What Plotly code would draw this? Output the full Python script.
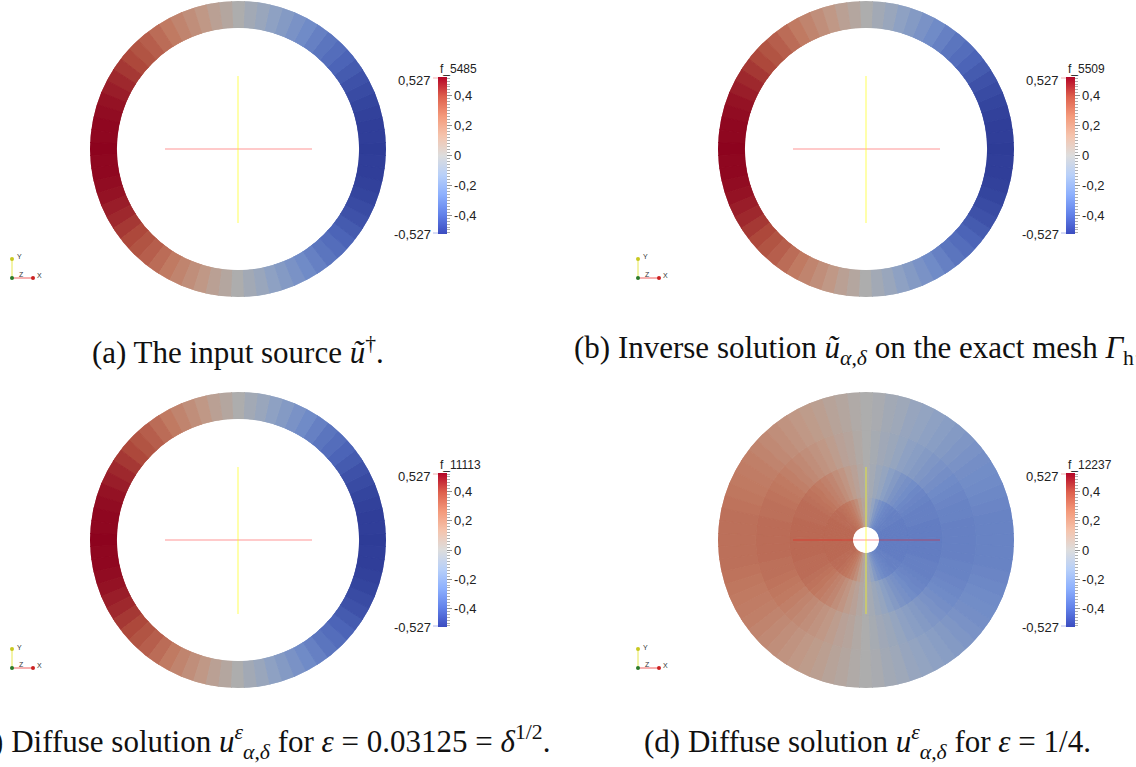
import plotly.graph_objects as go

W, H = 1136, 767

# ---------------- data ----------------
# sample angles (deg, 0 = +x axis, counter-clockwise), upper-right quadrant
angles_q = [0, 5, 10, 15, 20, 25, 30, 35, 40, 45, 50, 55, 60, 65, 70, 75, 80, 85, 90]

# ring panels (a), (b), (c): field value along the ring, 0..90 deg
vals_a = [-0.53, -0.52, -0.52, -0.51, -0.50, -0.48, -0.46, -0.43, -0.40, -0.37,
          -0.34, -0.30, -0.26, -0.22, -0.18, -0.14, -0.09, -0.05, 0.00]
vals_b = [-0.53, -0.52, -0.52, -0.51, -0.50, -0.48, -0.46, -0.43, -0.40, -0.37,
          -0.34, -0.30, -0.26, -0.22, -0.18, -0.14, -0.09, -0.05, 0.00]
vals_c = [-0.53, -0.52, -0.52, -0.51, -0.50, -0.48, -0.46, -0.43, -0.40, -0.37,
          -0.34, -0.30, -0.26, -0.22, -0.18, -0.14, -0.09, -0.05, 0.00]

# disc panel (d): four radial bands, inner -> outer, 0..90 deg
vals_d_band1 = [-0.31, -0.31, -0.31, -0.31, -0.31, -0.31, -0.31, -0.30, -0.30, -0.30,
                -0.29, -0.28, -0.27, -0.25, -0.22, -0.18, -0.12, -0.06, 0.00]
vals_d_band2 = [-0.31, -0.31, -0.31, -0.31, -0.30, -0.30, -0.30, -0.29, -0.28, -0.27,
                -0.25, -0.23, -0.21, -0.18, -0.15, -0.11, -0.08, -0.04, 0.00]
vals_d_band3 = [-0.30, -0.30, -0.30, -0.29, -0.29, -0.28, -0.27, -0.26, -0.24, -0.22,
                -0.20, -0.18, -0.16, -0.14, -0.11, -0.08, -0.06, -0.03, 0.00]
vals_d_band4 = [-0.29, -0.29, -0.29, -0.28, -0.27, -0.26, -0.25, -0.24, -0.22, -0.20,
                -0.18, -0.16, -0.14, -0.12, -0.10, -0.07, -0.05, -0.02, 0.00]
band_edges_d = [0.0, 0.22, 0.47, 0.72, 1.0]

field_names = ["f_5485", "f_5509", "f_11113", "f_12237"]
range_min, range_max = -0.527, 0.527
range_labels = ["0,527", "-0,527"]
major_ticks = [-0.4, -0.2, 0.0, 0.2, 0.4]
major_labels = ["-0,4", "-0,2", "0", "0,2", "0,4"]

captions = [
    "(a) The input source <i>ũ</i><sup>†</sup>.",
    "(b) Inverse solution <i>ũ</i><sub><i>α</i>,<i>δ</i></sub> on the exact mesh <i>Γ</i><sub>h</sub>.",
    "(c) Diffuse solution <i>u</i><sup><i>ε</i></sup><sub><i>α</i>,<i>δ</i></sub> for <i>ε</i> = 0.03125 = <i>δ</i><sup>1/2</sup>.",
    "(d) Diffuse solution <i>u</i><sup><i>ε</i></sup><sub><i>α</i>,<i>δ</i></sub> for <i>ε</i> = 1/4.",
]


def full_circle(q):
    """Extend 0..90 deg readings to the full circle (field is odd in x, even in y)."""
    upper = q + [-v for v in q[-2::-1]]          # 0..180
    return upper + upper[-2:0:-1]                # 0..355


def full_angles(a):
    upper = a + [180 - t for t in a[-2::-1]]
    return upper + [360 - t for t in upper[-2:0:-1]]


theta_full = full_angles(angles_q)

# ---------------- styles ----------------
coolwarm = [
    (0.0, (59, 76, 192)), (0.125, (98, 130, 234)), (0.25, (141, 176, 254)),
    (0.375, (184, 208, 249)), (0.5, (221, 221, 221)), (0.625, (245, 196, 173)),
    (0.75, (244, 154, 123)), (0.875, (222, 96, 77)), (1.0, (180, 4, 38)),
]
cs_bar = [[t, "rgb(%d,%d,%d)" % c] for t, c in coolwarm]
shade = 0.785
cs_lit = [[t, "rgb(%d,%d,%d)" % tuple(int(round(v * shade)) for v in c)] for t, c in coolwarm]

centers = [(238, 149), (866, 149), (238, 540), (866, 540)]
R_out = 148
holes = [0.818, 0.818, 0.818, 0.088]


def px(x):
    return x / W


def py(y):
    return 1 - y / H


fig = go.Figure()

ring_vals = [vals_a, vals_b, vals_c]
for i in range(4):
    name = "polar" if i == 0 else "polar%d" % (i + 1)
    if i < 3:
        bands = [(0.0, 1.0, full_circle(ring_vals[i]))]
    else:
        dq = [vals_d_band1, vals_d_band2, vals_d_band3, vals_d_band4]
        bands = [(band_edges_d[k], band_edges_d[k + 1] - band_edges_d[k], full_circle(dq[k]))
                 for k in range(4)]
    for base, width, vals in bands:
        fig.add_trace(go.Barpolar(
            theta=theta_full, r=[width] * len(theta_full), base=[base] * len(theta_full),
            width=[5] * len(theta_full), subplot=name,
            marker=dict(color=vals, colorscale=cs_lit, cmin=range_min, cmax=range_max,
                        line=dict(color=vals, colorscale=cs_lit, cmin=range_min,
                                  cmax=range_max, width=1)),
            showlegend=False, hoverinfo="skip",
        ))
    cx, cy = centers[i]
    fig.layout[name] = dict(
        domain=dict(x=[px(cx - R_out), px(cx + R_out)], y=[py(cy + R_out), py(cy - R_out)]),
        hole=holes[i], bgcolor="rgba(0,0,0,0)",
        angularaxis=dict(visible=False, showgrid=False, showline=False, ticks=""),
        radialaxis=dict(visible=False, range=[0, 1], showgrid=False, showline=False, ticks=""),
    )

# colour bars (unshaded colour map): one layer for minor ticks, one for labelled ticks
bar_x = [438, 1066, 438, 1066]
bar_top = [77, 77, 473, 473]
bar_len = [157, 157, 154, 154]

for i in range(4):
    for layer in ("minor", "major"):
        cb = dict(
            x=px(bar_x[i]), xanchor="left", y=py(bar_top[i]), yanchor="top",
            lenmode="pixels", len=bar_len[i], thicknessmode="pixels", thickness=9,
            xpad=0, ypad=0, outlinewidth=0, ticks="outside", tickwidth=1,
            tickfont=dict(family="Liberation Sans", size=13, color="#222222"),
        )
        if layer == "minor":
            cb.update(tickmode="linear", tick0=-0.52, dtick=0.02, ticklen=3,
                      tickcolor="#b0b0b0", showticklabels=False)
        else:
            cb.update(tickmode="array", tickvals=major_ticks, ticktext=major_labels,
                      ticklen=5, tickcolor="#909090")
        fig.add_trace(go.Scatter(
            x=[0, 0], y=[0, 0], mode="markers", xaxis="x", yaxis="y",
            marker=dict(color=[range_min, range_max], colorscale=cs_bar, cmin=range_min,
                        cmax=range_max, opacity=0, size=1, showscale=True, colorbar=cb),
            showlegend=False, hoverinfo="skip",
        ))

fig.update_layout(
    xaxis=dict(visible=False, domain=[0, 0.001], range=[1, 2]),
    yaxis=dict(visible=False, domain=[0, 0.001], range=[1, 2]),
)

annotations = []
shapes = []
P = dict(xref="paper", yref="paper", showarrow=False)
for i in range(4):
    cx, cy = centers[i]
    # colour-bar title and range labels
    annotations.append(dict(text=field_names[i], x=px(bar_x[i]), y=py(bar_top[i] - 8),
                            xanchor="left", yanchor="middle", **P,
                            font=dict(family="Liberation Sans", size=12, color="#222222")))
    annotations.append(dict(text=range_labels[0], x=px(bar_x[i] - 5), y=py(bar_top[i] + 3),
                            xanchor="right", yanchor="middle", **P,
                            font=dict(family="Liberation Sans", size=13, color="#222222")))
    annotations.append(dict(text=range_labels[1], x=px(bar_x[i] - 5), y=py(bar_top[i] + bar_len[i]),
                            xanchor="right", yanchor="middle", **P,
                            font=dict(family="Liberation Sans", size=13, color="#222222")))
    shapes.append(dict(type="line", xref="paper", yref="paper", layer="above",
                       x0=px(bar_x[i] - 5), x1=px(bar_x[i]), y0=py(bar_top[i] + 1), y1=py(bar_top[i] + 1),
                       line=dict(color="#f0b0b0", width=1)))
    shapes.append(dict(type="line", xref="paper", yref="paper", layer="above",
                       x0=px(bar_x[i] - 5), x1=px(bar_x[i]), y0=py(bar_top[i] + bar_len[i] - 1),
                       y1=py(bar_top[i] + bar_len[i] - 1), line=dict(color="#b0b8f0", width=1)))
    # crosshair widget
    shapes.append(dict(type="line", xref="paper", yref="paper", layer="above",
                       x0=px(cx - 73), x1=px(cx + 74), y0=py(cy), y1=py(cy),
                       line=dict(color="rgba(255,0,0,0.42)", width=1)))
    shapes.append(dict(type="line", xref="paper", yref="paper", layer="above",
                       x0=px(cx), x1=px(cx), y0=py(cy - 73), y1=py(cy + 74),
                       line=dict(color="rgba(255,255,0,0.65)", width=1)))
    # orientation glyph
    gx, gy = (12 if i % 2 == 0 else 638), (278 if i < 2 else 668)
    shapes.append(dict(type="line", xref="paper", yref="paper", layer="above",
                       x0=px(gx), x1=px(gx), y0=py(gy), y1=py(gy - 19),
                       line=dict(color="#e8e850", width=1)))
    shapes.append(dict(type="line", xref="paper", yref="paper", layer="above",
                       x0=px(gx), x1=px(gx + 22), y0=py(gy), y1=py(gy),
                       line=dict(color="#f06060", width=1)))
    shapes.append(dict(type="circle", xref="paper", yref="paper", layer="above",
                       x0=px(gx - 2), x1=px(gx + 2), y0=py(gy + 2), y1=py(gy - 2),
                       fillcolor="#2a7a2a", line=dict(width=0)))
    shapes.append(dict(type="circle", xref="paper", yref="paper", layer="above",
                       x0=px(gx + 19), x1=px(gx + 23), y0=py(gy + 2), y1=py(gy - 2),
                       fillcolor="#cc2020", line=dict(width=0)))
    shapes.append(dict(type="circle", xref="paper", yref="paper", layer="above",
                       x0=px(gx - 2), x1=px(gx + 2), y0=py(gy - 17), y1=py(gy - 21),
                       fillcolor="#c8c820", line=dict(width=0)))
    for t, dx, dy in (("Y", 3, -21), ("Z", 5, -4), ("X", 23, -3)):
        annotations.append(dict(text=t, x=px(gx + dx), y=py(gy + dy), xanchor="left",
                                yanchor="middle", **P,
                                font=dict(family="Liberation Sans", size=7, color="#333333")))

# captions
cap_font = dict(family="Liberation Serif", size=31, color="#111111")
annotations.append(dict(text=captions[0], x=px(238), y=py(350), xanchor="center", yanchor="middle",
                        **P, font=cap_font))
annotations.append(dict(text=captions[1], x=px(572), y=py(350), xanchor="left", yanchor="middle",
                        **P, font=cap_font))
annotations.append(dict(text=captions[2], x=px(552), y=py(742), xanchor="right", yanchor="middle",
                        **P, font=cap_font))
annotations.append(dict(text=captions[3], x=px(867), y=py(742), xanchor="center", yanchor="middle",
                        **P, font=cap_font))

fig.update_layout(
    width=W, height=H, margin=dict(l=0, r=0, t=0, b=0, autoexpand=False),
    paper_bgcolor="white", plot_bgcolor="white",
    annotations=annotations, shapes=shapes, showlegend=False,
)

fig.write_html("out.html", config={"displayModeBar": False},
               post_script="document.body.style.margin='0px';")
